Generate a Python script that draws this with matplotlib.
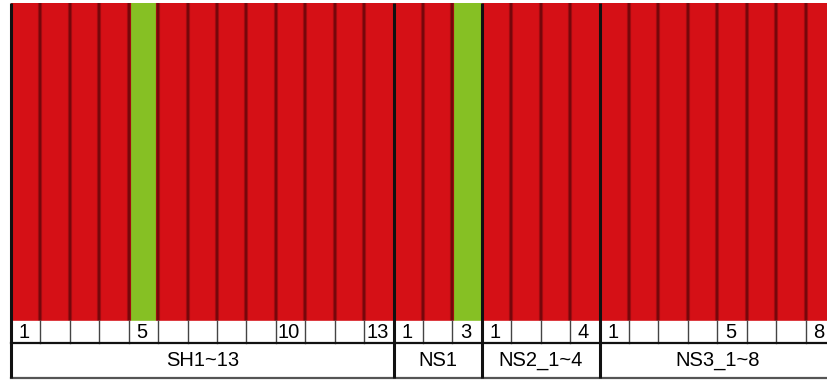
import matplotlib.pyplot as plt
import numpy as np

plt.rcParams['font.family'] = ['Liberation Sans', 'DejaVu Sans']

# groups and sizes
groups = ["SH1~13", "NS1", "NS2_1~4", "NS3_1~8"]
group_sizes = [13, 3, 4, 8]
# numbers shown under the bars (blank cells are empty strings)
cell_labels = ["1", "", "", "", "5", "", "", "", "", "10", "", "", "13",
               "1", "", "3",
               "1", "", "", "4",
               "1", "", "", "", "5", "", "", "8"]
# membership per individual (cluster 1 red, cluster 2 green)
q_red = [1, 1, 1, 1, 0, 1, 1, 1, 1, 1, 1, 1, 1,
         1, 1, 0,
         1, 1, 1, 1,
         1, 1, 1, 1, 1, 1, 1, 1]
q_green = [0, 0, 0, 0, 1, 0, 0, 0, 0, 0, 0, 0, 0,
           0, 0, 1,
           0, 0, 0, 0,
           0, 0, 0, 0, 0, 0, 0, 0]

red = "#d51016"
green = "#86c024"

fig = plt.figure(figsize=(8.28, 3.8), dpi=100)
ax = fig.add_axes([0, 0, 1, 1])

n = len(q_red)
x = np.arange(n)
ax.bar(x, q_red, width=1.0, align="edge", color=red, linewidth=0)
ax.bar(x, q_green, width=1.0, align="edge", bottom=q_red, color=green, linewidth=0)

bounds = np.concatenate([[0], np.cumsum(group_sizes)])

# dark shading between individuals
for i in range(1, n):
    if i in bounds:
        continue
    ax.plot([i, i], [0, 1], color="#a00b10", lw=3.0, zorder=2, solid_capstyle="butt")
    ax.plot([i, i], [0, 1], color="#6e070a", lw=1.2, zorder=2, solid_capstyle="butt")

row1 = -22 / 318
row2 = -57 / 318

# number row
ax.axhspan(row1, 0, color="white", zorder=3)
for i, lab in enumerate(cell_labels):
    ax.text(i + 0.45, row1 / 2, lab, ha="center", va="center", fontsize=14.5, zorder=5)
for i in range(1, n):
    ax.plot([i, i], [row1, 0], color="#444444", lw=1.0, zorder=4)

# label row
ax.axhspan(row2, row1, color="white", zorder=3)
for g, lab in enumerate(groups):
    ax.text((bounds[g] + bounds[g + 1]) / 2, (row1 + row2) / 2, lab,
            ha="center", va="center", fontsize=14.5, zorder=5)

ax.plot([0, n], [row1, row1], color="#111111", lw=1.6, zorder=6)
ax.plot([0, n], [row2, row2], color="#555555", lw=1.6, zorder=6)

# group separators
for b in bounds[:-1]:
    ax.plot([b, b], [row2, 1], color="#111111", lw=2.2, zorder=7, solid_capstyle="butt")

ax.set_xlim(-11 / 29.43, 817 / 29.43)
ax.set_ylim(-59 / 318, 1 + 3 / 318)
ax.axis("off")

fig.savefig("out.png", dpi=100, facecolor="white")
